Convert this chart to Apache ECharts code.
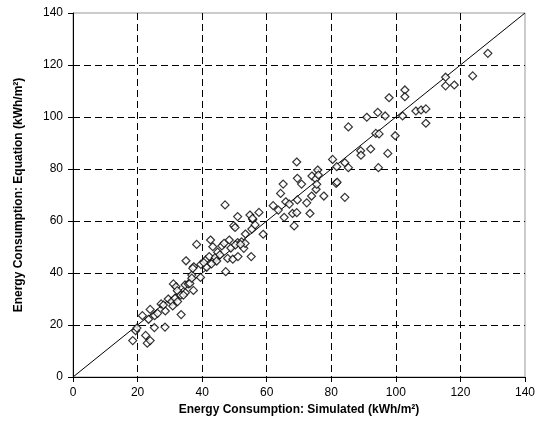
<!DOCTYPE html>
<html>
<head>
<meta charset="utf-8">
<script src="https://cdn.jsdelivr.net/npm/echarts@6/dist/echarts.min.js"></script>
<style>
  html, body { margin: 0; padding: 0; background: #fff; }
  #chart { width: 538px; height: 441px; }
</style>
</head>
<body>
<div id="chart"></div>
<script>
// simulated vs equation energy consumption (kWh/m2)
const simulated = [
  18.5, 19.4, 19.8, 22.5, 23.0, 23.9, 21.5, 23.4, 23.9, 25.3, 25.2, 27.3, 28.5, 28.6, 28.0,
  29.5, 30.6, 30.9, 31.1, 31.6, 31.9, 32.3, 32.4, 33.4, 33.5, 34.8, 34.7, 35.0, 35.7, 36.2,
  36.8, 37.3, 37.4, 38.3, 39.5, 39.6, 41.1, 41.4, 42.2, 42.6, 43.3, 43.7, 44.1, 46.1, 47.1,
  47.3, 47.9, 48.4, 49.5, 49.8, 50.2, 51.0, 51.1, 51.0, 52.2, 52.9, 53.3, 53.4, 54.8, 55.2,
  55.4, 55.7, 57.6, 58.9, 62.0, 63.6, 64.3, 65.1, 65.4, 65.9, 67.0, 68.0, 68.5, 69.3, 69.5,
  69.3, 69.5, 70.8, 72.4, 73.4, 73.9, 74.0, 75.2, 75.8, 75.3, 75.5, 76.0, 77.7, 80.4, 81.7,
  81.5, 81.8, 84.2, 85.3, 84.2, 85.3, 89.1, 89.2, 92.2, 91.0, 93.8, 94.8, 94.4, 94.6, 96.7,
  97.5, 97.9, 99.8, 102.1, 102.8, 102.8, 106.2, 107.8, 109.3, 109.3, 115.4, 115.4, 118.1, 123.8, 128.5,
  44.8, 45.5, 40.5, 46.8, 48.9, 50.3, 51.9, 44.5, 42.9, 55.6, 56.4, 26.2, 34.2, 36.8, 37.1
];
const equation = [
  14.0, 17.8, 18.8, 16.0, 13.0, 14.0, 23.6, 22.2, 26.0, 23.6, 19.0, 28.1, 19.2, 25.4, 27.7,
  30.0, 29.0, 27.3, 35.8, 30.3, 34.7, 33.2, 29.0, 31.5, 24.0, 32.4, 35.4, 44.7, 35.8, 36.0,
  39.2, 33.3, 42.4, 51.0, 38.3, 43.3, 45.0, 42.2, 46.3, 52.7, 50.1, 45.0, 46.0, 50.4, 66.2,
  40.5, 45.6, 52.7, 45.3, 58.2, 57.5, 61.7, 46.3, 51.7, 52.0, 49.5, 51.4, 55.0, 62.3, 46.3,
  56.9, 60.6, 63.3, 54.9, 65.9, 64.2, 70.6, 74.2, 61.4, 67.4, 66.5, 62.9, 58.1, 63.2, 68.1,
  82.7, 76.4, 74.2, 67.0, 62.9, 69.6, 77.3, 76.2, 79.6, 72.2, 74.1, 77.7, 69.6, 83.7, 80.9,
  74.5, 74.9, 82.4, 80.5, 69.1, 96.2, 87.0, 85.3, 87.7, 99.9, 93.7, 93.5, 101.8, 80.5, 100.4,
  86.0, 107.4, 92.8, 100.4, 110.4, 107.8, 102.3, 102.7, 103.1, 97.6, 115.3, 112.0, 112.3, 115.8, 124.5,
  48.0, 47.0, 44.0, 51.4, 49.6, 50.8, 51.0, 44.6, 43.5, 61.0, 58.5, 24.5, 31.5, 38.0, 41.8
];
const ticks = [0, 20, 40, 60, 80, 100, 120, 140];

const points = simulated.map((x, i) => [x, equation[i]]);
const identity = [[ticks[0], ticks[0]], [ticks[ticks.length - 1], ticks[ticks.length - 1]]];

const chart = echarts.init(document.getElementById('chart'));
const font = 'Liberation Sans, Arial, sans-serif';

function axis(name, gap) {
  return {
    type: 'value',
    min: ticks[0],
    max: ticks[ticks.length - 1],
    interval: 20,
    name: name,
    nameLocation: 'middle',
    nameGap: gap,
    nameTextStyle: { fontFamily: font, fontWeight: 'bold', fontSize: 12, color: '#000' },
    axisLine: { show: true, lineStyle: { color: '#000', width: 1 } },
    axisTick: { show: true, length: 5, lineStyle: { color: '#000' } },
    axisLabel: { fontFamily: font, fontSize: 12, color: '#000', margin: 10 },
    splitLine: {
      show: true,
      showMinLine: false,
      showMaxLine: false,
      lineStyle: { color: '#000', type: [7, 4], width: 1 }
    }
  };
}

chart.setOption({
  backgroundColor: '#fff',
  animation: false,
  grid: {
    left: 73,
    right: 13,
    top: 13,
    bottom: 64,
    show: true,
    borderColor: '#999',
    borderWidth: 1
  },
  xAxis: axis('Energy Consumption: Simulated (kWh/m²)', 23),
  yAxis: axis('Energy Consumption: Equation (kWh/m²)', 48),
  series: [
    {
      type: 'line',
      data: identity,
      symbol: 'none',
      lineStyle: { color: '#000', width: 1 },
      z: 2
    },
    {
      type: 'scatter',
      data: points,
      symbol: 'diamond',
      symbolSize: 8,
      itemStyle: { color: '#fff', borderColor: '#000', borderWidth: 1.2 },
      z: 3
    }
  ]
});
</script>
</body>
</html>
